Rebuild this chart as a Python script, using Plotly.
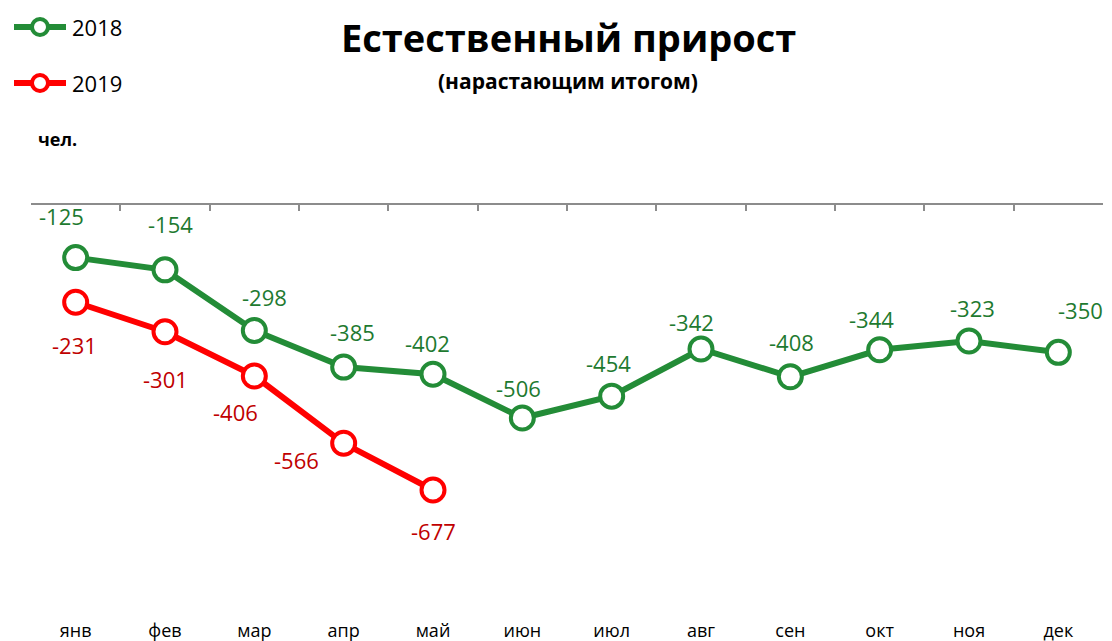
import plotly.graph_objects as go

months = ["янв", "фев", "мар", "апр", "май", "июн", "июл", "авг", "сен", "окт", "ноя", "дек"]
vals_2018 = [-125, -154, -298, -385, -402, -506, -454, -342, -408, -344, -323, -350]
vals_2019 = [-231, -301, -406, -566, -677]

# label offsets (pixels, style only)
off_2018 = [(-14, 42), (5, 46), (10, 33), (9, 35), (-6, 31), (-4, 30), (-3, 33),
            (-10, 27), (1, 35), (-8, 31), (3, 33), (22, 42)]
off_2019 = [(-1, -43), (0, -47), (-19, -36), (-47, -17), (0, -41)]

GREEN = "rgb(35,140,55)"
GREEN_TXT = "rgb(30,122,48)"
RED = "rgb(255,0,0)"
RED_TXT = "rgb(192,0,0)"
GRAY = "rgb(140,140,140)"
FONT = "Open Sans"

W, H = 1112, 641
L, R, T, B = 31, 9, 205, 23
PW, PH = W - L - R, H - T - B


def px2x(px):
    return (px - L) / PW


def py2y(py):
    return (H - B - py) / PH


xi = list(range(len(months)))

fig = go.Figure()
fig.add_trace(go.Scatter(
    x=xi[:len(vals_2018)], y=vals_2018, mode="lines+markers", name="2018",
    line=dict(color=GREEN, width=6),
    marker=dict(size=23, color="white", line=dict(color=GREEN, width=4)),
    showlegend=False, cliponaxis=False))
fig.add_trace(go.Scatter(
    x=xi[:len(vals_2019)], y=vals_2019, mode="lines+markers", name="2019",
    line=dict(color=RED, width=6),
    marker=dict(size=23, color="white", line=dict(color=RED, width=4)),
    showlegend=False, cliponaxis=False))
# carrier for the bottom category labels axis
fig.add_trace(go.Scatter(x=xi, y=[None] * len(xi), xaxis="x2", mode="markers",
                         showlegend=False, hoverinfo="skip"))

annotations = []
for i, v in enumerate(vals_2018):
    dx, dy = off_2018[i]
    annotations.append(dict(x=i, y=v, xref="x", yref="y", text=str(v), showarrow=False,
                            xshift=dx, yshift=dy, xanchor="center", yanchor="middle",
                            font=dict(family=FONT, size=22, color=GREEN_TXT)))
for i, v in enumerate(vals_2019):
    dx, dy = off_2019[i]
    annotations.append(dict(x=i, y=v, xref="x", yref="y", text=str(v), showarrow=False,
                            xshift=dx, yshift=dy, xanchor="center", yanchor="middle",
                            font=dict(family=FONT, size=22, color=RED_TXT)))

# titles
annotations.append(dict(x=px2x(568), y=py2y(37), xref="paper", yref="paper",
                        text="<b>Естественный прирост</b>", showarrow=False,
                        xanchor="center", yanchor="middle",
                        font=dict(family=FONT, size=38, color="black")))
annotations.append(dict(x=px2x(568), y=py2y(81), xref="paper", yref="paper",
                        text="<b>(нарастающим итогом)</b>", showarrow=False,
                        xanchor="center", yanchor="middle",
                        font=dict(family=FONT, size=21, color="black")))
annotations.append(dict(x=px2x(36), y=py2y(139), xref="paper", yref="paper",
                        text="<b>чел.</b>", showarrow=False,
                        xanchor="left", yanchor="middle",
                        font=dict(family=FONT, size=18, color="black")))

# custom legend
shapes = []
for name, col, py in [("2018", GREEN, 27), ("2019", RED, 83)]:
    shapes.append(dict(type="line", xref="paper", yref="paper",
                       x0=px2x(14), x1=px2x(66), y0=py2y(py), y1=py2y(py),
                       line=dict(color=col, width=6)))
    shapes.append(dict(type="circle", xref="paper", yref="paper",
                       xsizemode="pixel", ysizemode="pixel",
                       xanchor=px2x(40), yanchor=py2y(py),
                       x0=-8, x1=8, y0=-8, y1=8,
                       fillcolor="white", line=dict(color=col, width=4)))
    annotations.append(dict(x=px2x(70), y=py2y(py), xref="paper", yref="paper",
                            text=name, showarrow=False, xanchor="left", yanchor="middle",
                            font=dict(family=FONT, size=22, color="black")))

fig.update_layout(
    width=W, height=H,
    margin=dict(l=L, r=R, t=T, b=B, autoexpand=False),
    paper_bgcolor="white", plot_bgcolor="white",
    showlegend=False,
    annotations=annotations,
    shapes=shapes,
    xaxis=dict(type="linear", range=[-0.5, 11.5], side="top", automargin=False,
               showline=True, linecolor=GRAY, linewidth=2,
               tickvals=[k - 0.5 for k in range(len(months) + 1)],
               ticks="inside", ticklen=6, tickwidth=2, tickcolor=GRAY,
               showticklabels=False, showgrid=False, zeroline=False),
    xaxis2=dict(type="linear", range=[-0.5, 11.5], overlaying="x", side="bottom",
                anchor="y", tickvals=xi, ticktext=months, automargin=False,
                ticks="", showline=False, showgrid=False, zeroline=False,
                tickfont=dict(family=FONT, size=18, color="black")),
    yaxis=dict(range=[-981, 0], showticklabels=False, showgrid=False, automargin=False,
               zeroline=False, showline=False, ticks=""),
)

fig.write_html("out.html",
               config={"displayModeBar": False},
               post_script="document.body.style.margin='0';"
                           "document.body.style.overflow='hidden';")
